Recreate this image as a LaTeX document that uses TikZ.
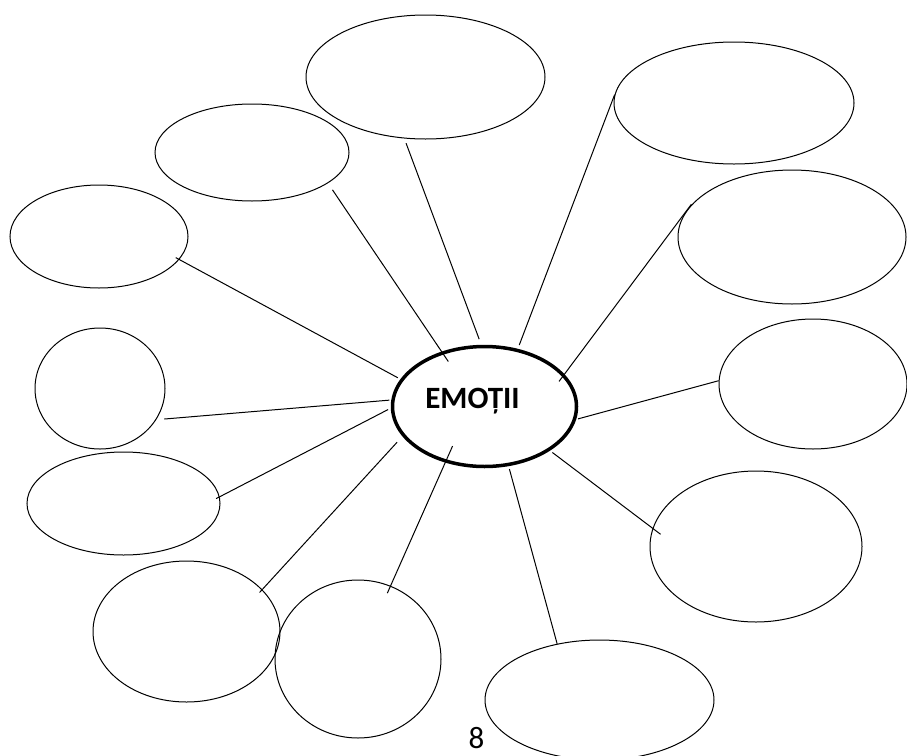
\documentclass[tikz,border=0pt]{standalone}
\usepackage{fontspec}
\setmainfont{Carlito}
\usetikzlibrary{shapes.geometric}

\begin{document}
\begin{tikzpicture}[x=1pt, y=-1pt,
        bubble/.style={draw, ellipse, line width=1pt, inner sep=0pt},
        hub/.style={draw, ellipse, line width=3.5pt, inner sep=0pt,
                    minimum width=184pt, minimum height=120pt},
        spoke/.style={line width=1pt}]
        \clip (0,0) rectangle (907,755);

        % Define the central node
        \node[hub] (emotii) at (484.5, 406.5) {};
        \node[anchor=base, inner sep=0pt, font=\fontsize{31}{36}\selectfont\bfseries] (emotii-label) at (472.5, 408) {EMOȚII};

        % Define the empty bubbles around it
        \node[bubble, minimum width=239pt, minimum height=124pt] (top) at (425.5, 77) {};
        \node[bubble, minimum width=240pt, minimum height=122pt] (top-right) at (734, 103) {};
        \node[bubble, minimum width=194pt, minimum height=97pt] (upper-left) at (252, 152.5) {};
        \node[bubble, minimum width=178pt, minimum height=103pt] (left-top) at (99, 236.5) {};
        \node[bubble, minimum width=228pt, minimum height=134pt] (right-upper) at (792, 237) {};
        \node[bubble, minimum width=130pt, minimum height=121pt] (left-circle) at (100, 388.5) {};
        \node[bubble, minimum width=188pt, minimum height=130pt] (right-middle) at (813, 384) {};
        \node[bubble, minimum width=193pt, minimum height=103pt] (left-lower) at (123.5, 503.5) {};
        \node[bubble, minimum width=212pt, minimum height=151pt] (right-lower) at (756, 546.5) {};
        \node[bubble, minimum width=187pt, minimum height=141pt] (bottom-left) at (186.5, 631.5) {};
        \node[bubble, minimum width=166pt, minimum height=158pt] (bottom-mid) at (358, 659) {};
        \node[bubble, minimum width=229pt, minimum height=120pt] (bottom) at (599.5, 700) {};

        % Draw the spokes from the centre to the bubbles
        \draw[spoke, shorten <=6pt, shorten >=5pt] (emotii.93) -- (top.251);
        \draw[spoke, shorten <=-12pt, shorten >=8pt] (emotii.128) -- (upper-left.338);
        \draw[spoke, shorten <=4pt] (emotii.60) -- (top-right.176);
        \draw[spoke, shorten <=-9pt, shorten >=-6pt] (emotii.22) -- (right-upper.165);
        \draw[spoke, shorten <=2pt] (emotii.352) -- (right-middle.178);
        \draw[spoke, shorten <=3pt, shorten >=-10pt] (emotii.326) -- (right-lower.170);
        \draw[spoke, shorten <=3pt] (emotii.292) -- (bottom.127);
        \draw[spoke, shorten <=-18pt, shorten >=-8pt] (emotii.235) -- (bottom-mid.66);
        \draw[spoke, shorten <=8pt, shorten >=-4pt] (emotii.200) -- (bottom-left.29);
        \draw[spoke, shorten <=3pt, shorten >=-4pt] (emotii.181) -- (left-lower.4);
        \draw[spoke, shorten <=2pt, shorten >=8pt] (emotii.176) -- (left-circle.331);
        \draw[spoke, shorten <=3pt, shorten >=-4pt] (emotii.162) -- (left-top.344);

        % Page number
        \node[anchor=base, inner sep=0pt, font=\fontsize{31}{36}\selectfont] (page-number) at (476.5, 748) {8};
\end{tikzpicture}
\end{document}
